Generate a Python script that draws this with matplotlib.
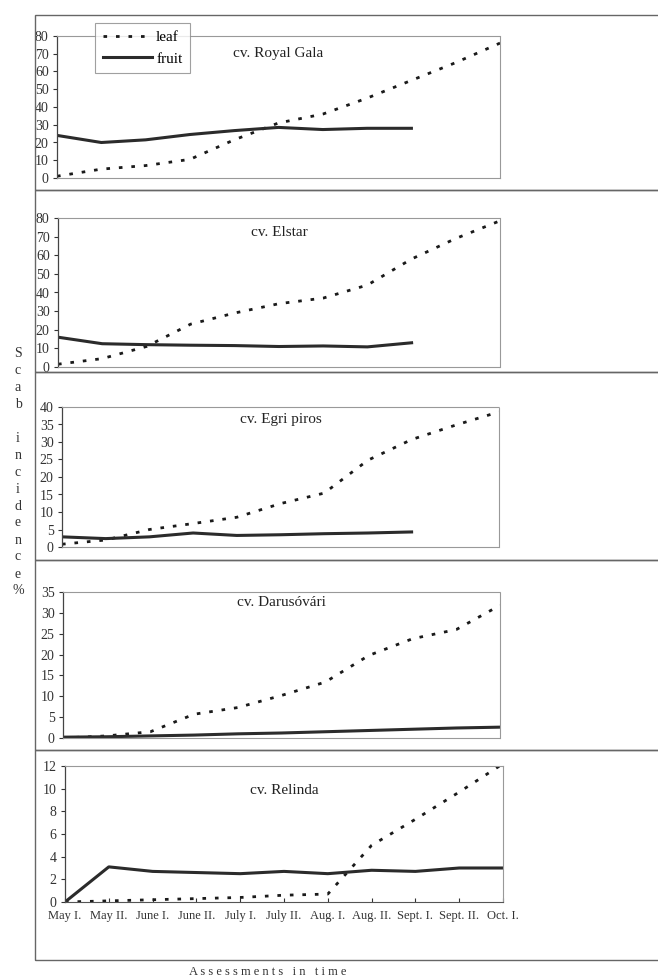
import matplotlib.pyplot as plt
from matplotlib.patches import Rectangle

plt.rcParams['font.family'] = ['Liberation Serif', 'DejaVu Serif']

# assessment dates (x categories)
periods = ['May I.', 'May II.', 'June I.', 'June II.', 'July I.', 'July II.',
           'Aug. I.', 'Aug. II.', 'Sept. I.', 'Sept. II.', 'Oct. I.']

cultivars = ['cv. Royal Gala', 'cv. Elstar', 'cv. Egri piros',
             'cv. Darusóvári', 'cv. Relinda']

# scab incidence %
leaf_gala = [1, 5, 7, 10.5, 21.5, 31, 36, 45, 55, 65, 76]
fruit_gala = [24, 20, 21.5, 24.5, 26.7, 28.5, 27.3, 28, 28]

leaf_elstar = [1.5, 4.5, 11, 23, 29, 34, 37, 44, 58, 69, 78.5]
fruit_elstar = [16, 12.5, 12, 11.7, 11.5, 11, 11.3, 10.8, 13]

leaf_egri = [0.8, 2, 5, 6.7, 8.5, 12.4, 15.4, 24.8, 30.7, 34.8, 38.6]
fruit_egri = [2.9, 2.4, 2.9, 4, 3.3, 3.5, 3.8, 4, 4.3]

leaf_darus = [0, 0.5, 1.5, 5.7, 7.3, 10.2, 13.4, 19.8, 23.8, 26, 31.8]
fruit_darus = [0.2, 0.3, 0.5, 0.7, 1.0, 1.2, 1.5, 1.8, 2.1, 2.4, 2.6]

leaf_relinda = [0, 0.1, 0.2, 0.3, 0.4, 0.6, 0.7, 5.0, 7.3, 9.7, 12.2]
fruit_relinda = [0, 3.1, 2.7, 2.6, 2.5, 2.7, 2.5, 2.8, 2.7, 3.0, 3.0]

leaf_series = [leaf_gala, leaf_elstar, leaf_egri, leaf_darus, leaf_relinda]
fruit_series = [fruit_gala, fruit_elstar, fruit_egri, fruit_darus, fruit_relinda]
y_max = [80, 80, 40, 35, 12]
y_step = [10, 10, 5, 5, 2]

W, H = 658, 980
fig = plt.figure(figsize=(W / 100, H / 100), dpi=100)

# plot areas in pixels: left, right, top, bottom
boxes = [(57, 500, 36, 178), (58, 500, 218, 367), (62, 499, 407, 547),
         (63, 500, 592, 738), (65, 503, 766, 902)]
title_y = [0.88, 0.9, 0.91, 0.925, 0.82]

# outer chart borders
frame_lines = [15, 190, 372, 560, 750, 960]
for top, bot in zip(frame_lines[:-1], frame_lines[1:]):
    fig.patches.append(Rectangle((35 / W, 1 - bot / H), 1.0, (bot - top) / H,
                                 transform=fig.transFigure, fill=False,
                                 edgecolor='#666666', lw=1.0))

for i, (l, r, t, b) in enumerate(boxes):
    ax = fig.add_axes([l / W, 1 - b / H, (r - l) / W, (b - t) / H])
    leaf = leaf_series[i]
    fruit = fruit_series[i]
    ax.plot(range(len(leaf)), leaf, color='#1a1a1a', lw=2.0,
            dashes=(1.3, 3.2), label='leaf')
    ax.plot(range(len(fruit)), fruit, color='#2b2b2b', lw=2.2, label='fruit')

    ax.set_xlim(0, len(periods) - 1)
    ax.set_ylim(0, y_max[i])
    ax.set_yticks(range(0, y_max[i] + 1, y_step[i]))
    ax.set_xticks(range(len(periods)))
    ax.tick_params(axis='y', direction='out', length=3, width=0.8,
                   labelsize=10, colors='#333333', pad=3)
    if i == len(boxes) - 1:
        ax.set_xticklabels(periods)
        ax.tick_params(axis='x', direction='in', length=3, width=0.8,
                       labelsize=9, colors='#333333', pad=6)
    else:
        ax.tick_params(axis='x', length=0, labelbottom=False)

    for side in ['top', 'right', 'bottom']:
        ax.spines[side].set_linestyle((0, (1, 1)))
        ax.spines[side].set_color('#999999')
        ax.spines[side].set_linewidth(0.8)
    ax.spines['left'].set_color('#444444')
    ax.spines['left'].set_linewidth(0.9)
    if i == len(boxes) - 1:
        ax.spines['bottom'].set_linestyle('-')
        ax.spines['bottom'].set_color('#555555')

    ax.text(0.5, title_y[i], cultivars[i], transform=ax.transAxes,
            ha='center', va='center', fontsize=11, color='#222222')

    if i == 0:
        leg = ax.legend(loc='upper left', bbox_to_anchor=(95 / W, 1 - 23 / H),
                        bbox_transform=fig.transFigure, fontsize=11,
                        frameon=True, fancybox=False, edgecolor='#888888',
                        handlelength=3.2, handletextpad=0.3, labelspacing=0.5,
                        borderpad=0.5, borderaxespad=0)
        leg.get_frame().set_linewidth(0.8)

# stacked y label
fig.text(18 / W, 1 - 472 / H, 'S\nc\na\nb\n\ni\nn\nc\ni\nd\ne\nn\nc\ne\n%',
         ha='center', va='center', fontsize=10, linespacing=1.4,
         color='#333333')

fig.text(268 / W, 1 - 972 / H, 'A s s e s s m e n t s   i n   t i m e',
         ha='center', va='center', fontsize=9, color='#333333')

fig.savefig('out.png', dpi=100, facecolor='white')
